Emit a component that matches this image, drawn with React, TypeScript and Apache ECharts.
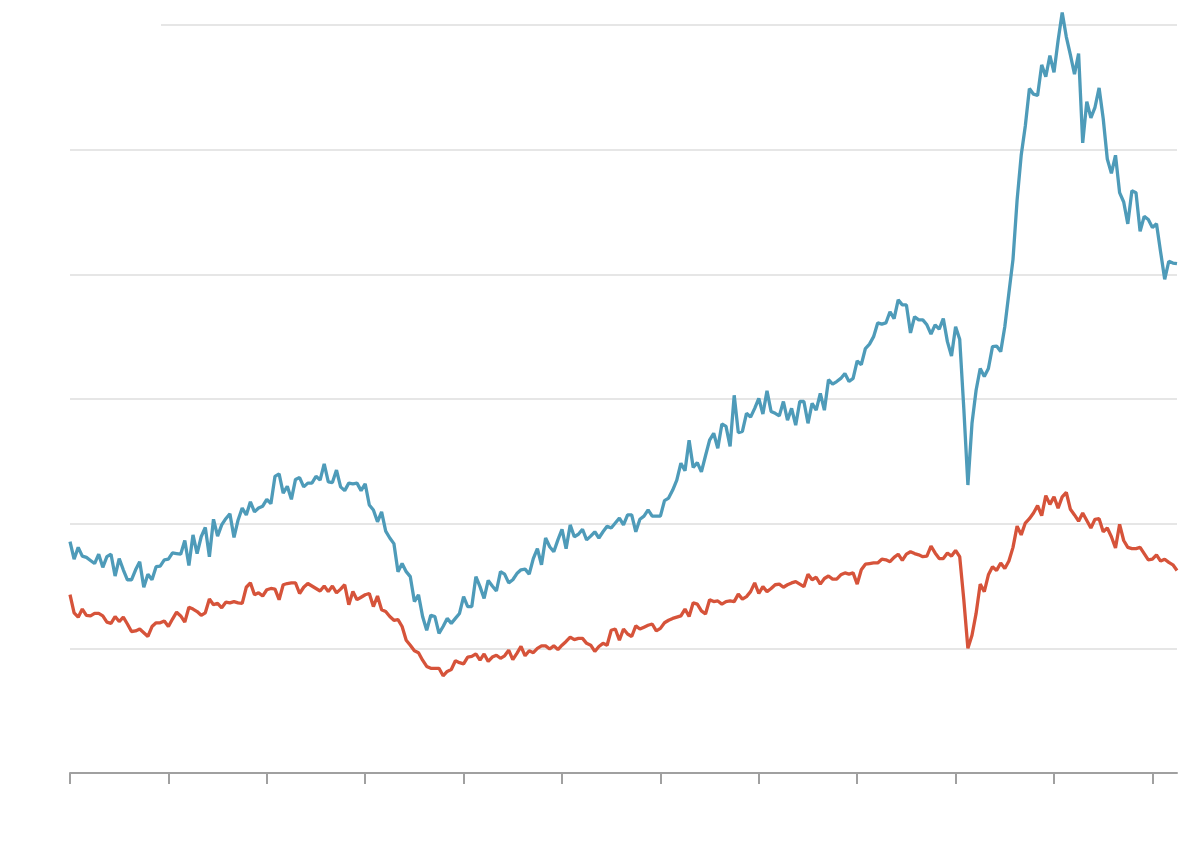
import React, { useEffect, useRef } from "react";
import * as echarts from "echarts";

// Monthly series, Jan 2002 – Jul 2024 (millions)
const START_YEAR = 2002;

const openings = [
  3.71, 3.43, 3.62, 3.48, 3.46, 3.41, 3.36, 3.51, 3.30, 3.47, 3.51, 3.16,
  3.44, 3.26, 3.10, 3.10, 3.26, 3.39, 2.98, 3.19, 3.10, 3.31, 3.32, 3.42,
  3.43, 3.53, 3.52, 3.51, 3.73, 3.33, 3.82, 3.52, 3.79, 3.94, 3.47, 4.07,
  3.80, 3.98, 4.08, 4.16, 3.78, 4.06, 4.25, 4.14, 4.35, 4.19, 4.25, 4.28,
  4.39, 4.32, 4.76, 4.80, 4.49, 4.60, 4.39, 4.71, 4.74, 4.59, 4.65, 4.65,
  4.76, 4.70, 4.96, 4.67, 4.66, 4.86, 4.59, 4.53, 4.65, 4.64, 4.65, 4.53,
  4.64, 4.30, 4.22, 4.03, 4.19, 3.88, 3.77, 3.68, 3.23, 3.36, 3.23, 3.15,
  2.75, 2.86, 2.51, 2.29, 2.53, 2.51, 2.24, 2.35, 2.48, 2.40, 2.48, 2.56,
  2.83, 2.67, 2.67, 3.15, 2.99, 2.80, 3.09, 3.00, 2.92, 3.23, 3.19, 3.05,
  3.10, 3.20, 3.26, 3.27, 3.19, 3.44, 3.60, 3.34, 3.77, 3.63, 3.55, 3.74,
  3.91, 3.60, 3.98, 3.79, 3.83, 3.91, 3.74, 3.80, 3.87, 3.77, 3.87, 3.96,
  3.93, 4.01, 4.09, 3.98, 4.14, 4.14, 3.87, 4.07, 4.12, 4.22, 4.12, 4.12,
  4.12, 4.37, 4.41, 4.54, 4.70, 4.97, 4.85, 5.34, 4.90, 4.98, 4.83, 5.09,
  5.34, 5.45, 5.21, 5.60, 5.56, 5.24, 6.06, 5.46, 5.48, 5.77, 5.71, 5.85,
  6.01, 5.76, 6.13, 5.80, 5.77, 5.73, 5.96, 5.66, 5.85, 5.58, 5.96, 5.96,
  5.61, 5.93, 5.82, 6.09, 5.82, 6.31, 6.24, 6.28, 6.33, 6.41, 6.28, 6.33,
  6.61, 6.55, 6.81, 6.88, 7.00, 7.22, 7.20, 7.22, 7.40, 7.29, 7.59, 7.51,
  7.51, 7.06, 7.32, 7.27, 7.27, 7.19, 7.04, 7.19, 7.12, 7.29, 6.92, 6.69,
  7.16, 6.96, 5.85, 4.62, 5.61, 6.14, 6.49, 6.36, 6.49, 6.84, 6.85, 6.76,
  7.16, 7.70, 8.24, 9.19, 9.91, 10.38, 10.98, 10.89, 10.87, 11.36, 11.17, 11.51,
  11.24, 11.75, 12.2, 11.81, 11.52, 11.21, 11.54, 10.11, 10.77, 10.51, 10.68, 10.99,
  10.50, 9.85, 9.62, 9.91, 9.31, 9.16, 8.81, 9.34, 9.31, 8.69, 8.93, 8.88,
  8.75, 8.81, 8.36, 7.92, 8.21, 8.18, 8.17,
];

const quits = [
  2.86, 2.57, 2.50, 2.63, 2.53, 2.52, 2.56, 2.56, 2.52, 2.42, 2.40, 2.51,
  2.43, 2.50, 2.39, 2.27, 2.28, 2.31, 2.25, 2.19, 2.35, 2.41, 2.41, 2.44,
  2.35, 2.47, 2.58, 2.52, 2.42, 2.66, 2.63, 2.59, 2.53, 2.57, 2.79, 2.70,
  2.72, 2.65, 2.74, 2.73, 2.75, 2.73, 2.72, 2.98, 3.05, 2.86, 2.89, 2.84,
  2.94, 2.96, 2.95, 2.78, 3.02, 3.04, 3.05, 3.05, 2.88, 2.98, 3.04, 3.00,
  2.96, 2.92, 3.00, 2.91, 3.00, 2.89, 2.95, 3.02, 2.70, 2.91, 2.78, 2.82,
  2.86, 2.88, 2.67, 2.84, 2.62, 2.59, 2.51, 2.45, 2.46, 2.35, 2.13, 2.05,
  1.96, 1.93, 1.81, 1.71, 1.68, 1.68, 1.68, 1.56, 1.63, 1.66, 1.80, 1.77,
  1.75, 1.86, 1.87, 1.91, 1.81, 1.91, 1.79, 1.86, 1.89, 1.84, 1.88, 1.97,
  1.82, 1.92, 2.03, 1.88, 1.96, 1.93, 2.00, 2.04, 2.04, 1.99, 2.04, 1.98,
  2.05, 2.11, 2.18, 2.14, 2.16, 2.16, 2.08, 2.05, 1.95, 2.03, 2.08, 2.05,
  2.29, 2.31, 2.13, 2.31, 2.23, 2.19, 2.36, 2.31, 2.34, 2.37, 2.39, 2.28,
  2.32, 2.41, 2.45, 2.48, 2.50, 2.52, 2.63, 2.51, 2.73, 2.71, 2.60, 2.55,
  2.78, 2.75, 2.76, 2.71, 2.75, 2.76, 2.75, 2.87, 2.79, 2.83, 2.91, 3.05,
  2.88, 2.99, 2.91, 2.96, 3.02, 3.03, 2.98, 3.02, 3.05, 3.07, 3.03, 2.99,
  3.19, 3.10, 3.14, 3.03, 3.12, 3.16, 3.11, 3.11, 3.18, 3.21, 3.19, 3.21,
  3.03, 3.26, 3.35, 3.36, 3.37, 3.37, 3.43, 3.42, 3.39, 3.46, 3.51, 3.41,
  3.51, 3.55, 3.52, 3.50, 3.47, 3.48, 3.64, 3.53, 3.44, 3.44, 3.53, 3.48,
  3.57, 3.47, 2.78, 2.00, 2.21, 2.56, 3.03, 2.91, 3.18, 3.31, 3.25, 3.37,
  3.28, 3.40, 3.62, 3.96, 3.82, 4.01, 4.08, 4.17, 4.29, 4.13, 4.45, 4.31,
  4.43, 4.25, 4.43, 4.50, 4.23, 4.14, 4.04, 4.17, 4.05, 3.93, 4.07, 4.08,
  3.87, 3.93, 3.79, 3.61, 3.99, 3.73, 3.62, 3.60, 3.60, 3.62, 3.52, 3.42,
  3.43, 3.50, 3.40, 3.43, 3.38, 3.34, 3.25,
];

const months = openings.map((_, i) => {
  const y = START_YEAR + Math.floor(i / 12);
  const m = (i % 12) + 1;
  return `${y}-${m < 10 ? "0" + m : m}`;
});

const Y_MIN = 0;
const Y_MAX = 12;
const Y_STEP = 2;
const TICK_EVERY = 24;

export default function App() {
  const ref = useRef<HTMLDivElement>(null);
  useEffect(() => {
    if (!ref.current) return;
    const chart = echarts.init(ref.current, null, { renderer: "svg" });
    chart.setOption({
      animation: false,
      backgroundColor: "#ffffff",
      grid: { left: 70, right: 23, top: 25, bottom: 71 },
      xAxis: {
        type: "category",
        data: months,
        boundaryGap: false,
        axisLine: { show: true, lineStyle: { color: "#a0a0a0", width: 2 } },
        axisTick: {
          show: true,
          length: 11,
          interval: (index: number) => index % TICK_EVERY === 0,
          lineStyle: { color: "#a0a0a0", width: 2 },
        },
        axisLabel: { show: false },
        splitLine: { show: false },
      },
      yAxis: {
        type: "value",
        min: Y_MIN,
        max: Y_MAX,
        interval: Y_STEP,
        axisLine: { show: false },
        axisTick: { show: false },
        axisLabel: { show: false },
        splitLine: { show: true, lineStyle: { color: "#e6e6e6", width: 2 } },
      },
      graphic: [
        {
          type: "rect",
          z: 100,
          shape: { x: 60, y: 21, width: 101, height: 8 },
          style: { fill: "#ffffff" },
        },
      ],
      series: [
        {
          name: "Quits",
          type: "line",
          data: quits,
          symbol: "none",
          clip: false,
          lineStyle: { color: "#d6533a", width: 3.3 },
          z: 3,
        },
        {
          name: "Job openings",
          type: "line",
          data: openings,
          symbol: "none",
          clip: false,
          lineStyle: { color: "#4e9bb9", width: 3.3 },
          z: 4,
        },
      ],
    });
    return () => chart.dispose();
  }, []);
  return (
    <div
      ref={ref}
      style={{ position: "absolute", left: 0, top: 0, width: 1200, height: 844 }}
    />
  );
}
